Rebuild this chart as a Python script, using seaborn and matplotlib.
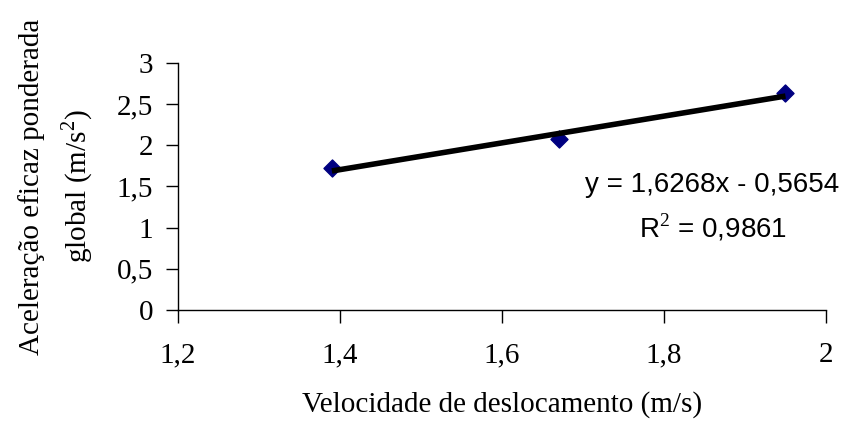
import matplotlib
matplotlib.use("Agg")
import matplotlib.pyplot as plt
import seaborn as sns
import pandas as pd

# data
velocidade = [1.39, 1.67, 1.95]
aceleracao = [1.72, 2.08, 2.63]
x_ticks = [1.2, 1.4, 1.6, 1.8, 2.0]
y_ticks = [0, 0.5, 1, 1.5, 2, 2.5, 3]

def fmt(v):
    s = f"{v:g}"
    return s.replace(".", ",")

sns.set_style("ticks")
plt.rcParams["font.family"] = ["Liberation Serif", "DejaVu Serif"]
plt.rcParams["mathtext.fontset"] = "custom"
plt.rcParams["mathtext.rm"] = "Liberation Serif"
plt.rcParams["text.color"] = "black"
plt.rcParams["axes.labelcolor"] = "black"
plt.rcParams["xtick.color"] = "black"
plt.rcParams["ytick.color"] = "black"

df = pd.DataFrame({"v": velocidade, "a": aceleracao})

fig = plt.figure(figsize=(8.66, 4.21), dpi=100)
ax = fig.add_axes([0.2055, 0.2637, 0.7483, 0.5867])

sns.regplot(data=df, x="v", y="a", ax=ax, ci=None, truncate=True,
            marker="D",
            scatter_kws={"color": "#000080", "s": 75, "edgecolors": "#000080", "zorder": 2,
                         "alpha": 1},
            line_kws={"color": "black", "lw": 4, "zorder": 3, "solid_capstyle": "butt"})

ax.set_xlim(1.2, 2.0)
ax.set_ylim(0, 3)
ax.set_xticks(x_ticks)
ax.set_yticks(y_ticks)
ax.set_xticklabels([fmt(v) for v in x_ticks], fontsize=21)
ax.set_yticklabels([fmt(v) for v in y_ticks], fontsize=21)
ax.tick_params(direction="out", length=9, width=1, color="black", labelcolor="black")
ax.tick_params(axis="x", pad=14)
ax.tick_params(axis="y", pad=9)
for s in ["top", "right"]:
    ax.spines[s].set_visible(False)
for s in ["left", "bottom"]:
    ax.spines[s].set_color("black")
    ax.spines[s].set_linewidth(1)

ax.set_xlabel("Velocidade de deslocamento (m/s)", fontsize=21)
ax.xaxis.set_label_coords(0.5, -0.33)
ax.set_ylabel("Aceleração eficaz ponderada\nglobal (m/s$^2$)", fontsize=21,
              linespacing=1.55)
ax.yaxis.set_label_coords(-0.128, 0.5)

ax.text(1.86, 1.52, "y = 1,6268x - 0,5654", fontsize=20, family="Liberation Sans",
        ha="center", va="center", color="black")
ax.text(1.86, 1.0, "R$^{2}$ = 0,9861", fontsize=20, family="Liberation Sans",
        ha="center", va="center", color="black")

fig.savefig("out.png", dpi=100)
